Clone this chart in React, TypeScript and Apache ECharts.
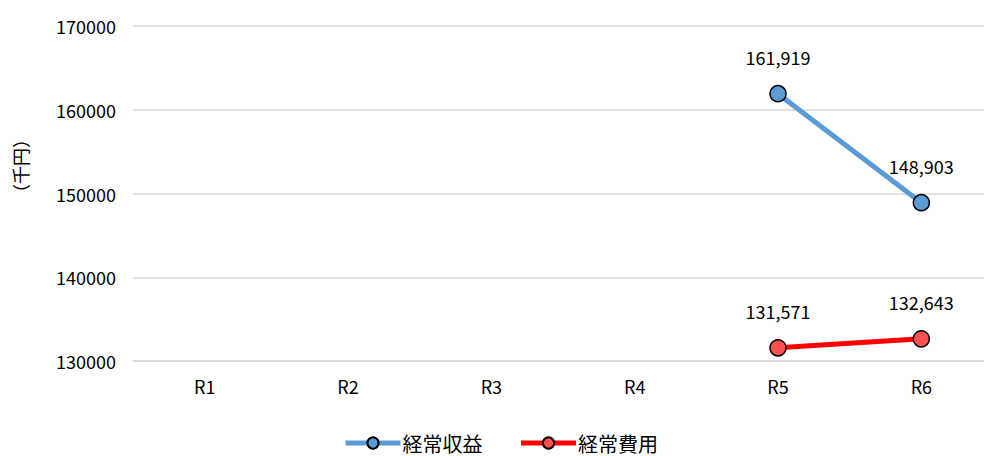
import React, { useEffect, useRef } from "react";
import * as echarts from "echarts";

const categories = ["R1", "R2", "R3", "R4", "R5", "R6"];
const revenue: (number | null)[] = [null, null, null, null, 161919, 148903];
const expense: (number | null)[] = [null, null, null, null, 131571, 132643];
const seriesNames = ["経常収益", "経常費用"];
const yAxisName = "（千円）";

const FONT = "'Noto Sans CJK JP', 'Noto Sans', sans-serif";

const fmt = (v: number) => v.toLocaleString("en-US");

export default function App() {
  const ref = useRef<HTMLDivElement>(null);
  useEffect(() => {
    if (!ref.current) return;
    const chart = echarts.init(ref.current, null, { renderer: "svg" });
    const label = {
      show: true,
      position: "top" as const,
      distance: 19,
      fontSize: 18,
      fontFamily: FONT,
      color: "#000",
      formatter: (p: any) => fmt(p.value),
    };
    chart.setOption({
      animation: false,
      backgroundColor: "#fff",
      textStyle: { fontFamily: FONT },
      grid: {
        left: 133,
        width: 860,
        top: 26,
        height: 335,
        containLabel: false,
        outerBoundsMode: "none",
      },
      legend: {
        left: 338,
        top: 428,
        itemWidth: 55,
        itemHeight: 14,
        itemGap: 36,
        lineStyle: { width: 5 },
        textStyle: {
          fontSize: 20,
          fontFamily: FONT,
          color: "#000",
          padding: [0, 0, 0, -3],
        },
        data: seriesNames,
      },
      graphic: [
        {
          type: "text",
          x: 20,
          y: 166,
          rotation: Math.PI / 2,
          style: {
            text: yAxisName,
            fontSize: 18,
            fontFamily: FONT,
            fill: "#000",
            align: "center",
            verticalAlign: "middle",
          },
        },
      ],
      xAxis: {
        type: "category",
        data: categories,
        boundaryGap: true,
        axisLine: { show: true, lineStyle: { color: "#d9d9d9", width: 1.5 } },
        axisTick: { show: false },
        axisLabel: { fontSize: 18, color: "#000", margin: 16, fontFamily: FONT },
      },
      yAxis: {
        type: "value",
        min: 130000,
        max: 170000,
        interval: 10000,
        axisLine: { show: false },
        axisTick: { show: false },
        axisLabel: {
          fontSize: 18,
          color: "#000",
          margin: 17,
          fontFamily: FONT,
          formatter: (v: number) => String(v),
        },
        splitLine: { lineStyle: { color: "#d9d9d9", width: 1.5 } },
      },
      series: [
        {
          name: seriesNames[0],
          type: "line",
          data: revenue,
          symbol: "circle",
          symbolSize: 16,
          lineStyle: { color: "#5B9BD5", width: 5 },
          itemStyle: { color: "#5B9BD5", borderColor: "#000", borderWidth: 1.5 },
          label,
        },
        {
          name: seriesNames[1],
          type: "line",
          data: expense,
          symbol: "circle",
          symbolSize: 16,
          lineStyle: { color: "#FF0000", width: 5 },
          itemStyle: { color: "#FF5050", borderColor: "#000", borderWidth: 1.5 },
          label,
        },
      ],
    });
    return () => chart.dispose();
  }, []);
  return (
    <div
      ref={ref}
      style={{ position: "fixed", left: 0, top: 0, width: 984, height: 456 }}
    />
  );
}
